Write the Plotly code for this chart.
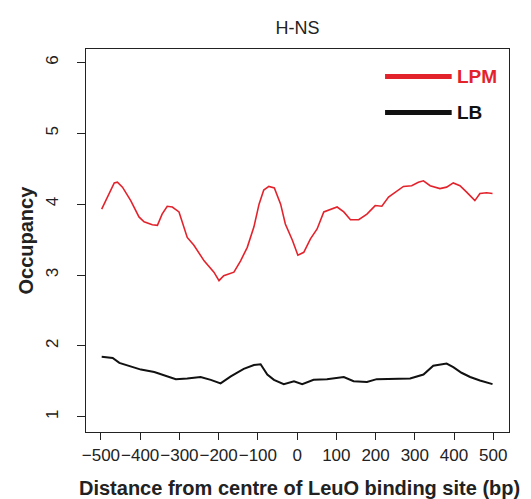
import plotly.graph_objects as go

# LPM (red) occupancy profile
lpm_x = [-498, -483, -466, -458, -445, -424, -403, -390, -369, -356, -344, -331, -318, -301,
         -280, -263, -237, -212, -199, -187, -161, -144, -127, -110, -97, -85, -72, -58, -42,
         -30, -12, 2, 17, 34, 51, 68, 85, 102, 119, 136, 157, 178, 199, 216, 233, 250, 271,
         292, 309, 322, 339, 364, 381, 398, 415, 432, 453, 466, 483, 498]
lpm_y = [3.93, 4.10, 4.30, 4.31, 4.24, 4.05, 3.82, 3.75, 3.71, 3.70, 3.86, 3.97, 3.96, 3.89,
         3.53, 3.42, 3.20, 3.04, 2.92, 2.99, 3.04, 3.20, 3.39, 3.68, 4.00, 4.20, 4.25, 4.23, 4.00,
         3.72, 3.49, 3.28, 3.32, 3.51, 3.65, 3.89, 3.93, 3.96, 3.89, 3.78, 3.78, 3.86, 3.98, 3.97,
         4.10, 4.17, 4.25, 4.26, 4.31, 4.33, 4.26, 4.22, 4.24, 4.30, 4.26, 4.17, 4.05, 4.15, 4.16, 4.15]

# LB (black) occupancy profile
lb_x = [-498, -470, -453, -432, -398, -364, -331, -309, -280, -246, -220, -195, -169, -136,
        -110, -93, -76, -59, -34, -8, 13, 42, 76, 119, 144, 178, 203, 246, 288, 322, 347,
        381, 398, 419, 441, 466, 498]
lb_y = [1.845, 1.83, 1.76, 1.72, 1.665, 1.63, 1.57, 1.53, 1.54, 1.56, 1.52, 1.47, 1.57, 1.675,
        1.73, 1.74, 1.595, 1.52, 1.46, 1.50, 1.46, 1.52, 1.53, 1.56, 1.50, 1.49, 1.53, 1.54,
        1.54, 1.595, 1.72, 1.75, 1.70, 1.62, 1.56, 1.51, 1.46]

x_ticks = [-500, -400, -300, -200, -100, 0, 100, 200, 300, 400, 500]
y_ticks = [1, 2, 3, 4, 5, 6]

RED = "#e3232c"
INK = "#222222"
FONT = "Liberation Sans"

fig = go.Figure()
fig.add_trace(go.Scatter(x=lpm_x, y=lpm_y, mode="lines", line=dict(color=RED, width=1.6),
                         showlegend=False))
fig.add_trace(go.Scatter(x=lb_x, y=lb_y, mode="lines", line=dict(color="#111111", width=2),
                         showlegend=False))

# legend drawn manually (R-style)
for yy, col, lab in [(0.928, RED, "LPM"), (0.834, "#111111", "LB")]:
    fig.add_shape(type="line", xref="paper", yref="paper", x0=0.707, x1=0.8645, y0=yy, y1=yy,
                  line=dict(color=col, width=5))
    fig.add_annotation(xref="paper", yref="paper", x=0.872, y=yy, text="<b>%s</b>" % lab,
                       showarrow=False, xanchor="left", yanchor="middle",
                       font=dict(family=FONT, size=19, color=col))

# axis titles
fig.add_annotation(xref="paper", yref="paper", x=0.5, y=0, yshift=-56, xshift=2,
                   text="<b>Distance from centre of LeuO binding site (bp)</b>",
                   showarrow=False, xanchor="center", yanchor="middle",
                   font=dict(family=FONT, size=20, color=INK))
fig.add_annotation(xref="paper", yref="paper", x=0, y=0.5, xshift=-61, textangle=-90,
                   text="<b>Occupancy</b>", showarrow=False, xanchor="center",
                   yanchor="middle", font=dict(family=FONT, size=20, color=INK))

fig.update_layout(
    width=531, height=499,
    margin=dict(l=86, r=22, t=49, b=67),
    plot_bgcolor="white", paper_bgcolor="white",
    font=dict(family=FONT, color=INK),
    title=dict(text="H-NS", x=0.5, xref="paper", xanchor="center", y=1 - 28 / 499,
               yanchor="middle", font=dict(family=FONT, size=18, color=INK)),
    xaxis=dict(range=[-538, 540], tickvals=x_ticks, ticks="outside", ticklen=7,
               tickcolor=INK, showline=True, mirror=True, linecolor=INK,
               linewidth=1.2, showgrid=False, zeroline=False, tickangle=0, automargin=False,
               tickfont=dict(family=FONT, size=17, color=INK)),
    yaxis=dict(range=[0.784, 6.19], tickvals=y_ticks, ticks="outside", ticklen=8,
               tickcolor=INK, showline=True, mirror=True, linecolor=INK,
               linewidth=1.2, showgrid=False, zeroline=False, tickangle=-90, automargin=False,
               ticklabelstandoff=12,
               tickfont=dict(family=FONT, size=17, color=INK)),
)

fig.write_html("out.html")
